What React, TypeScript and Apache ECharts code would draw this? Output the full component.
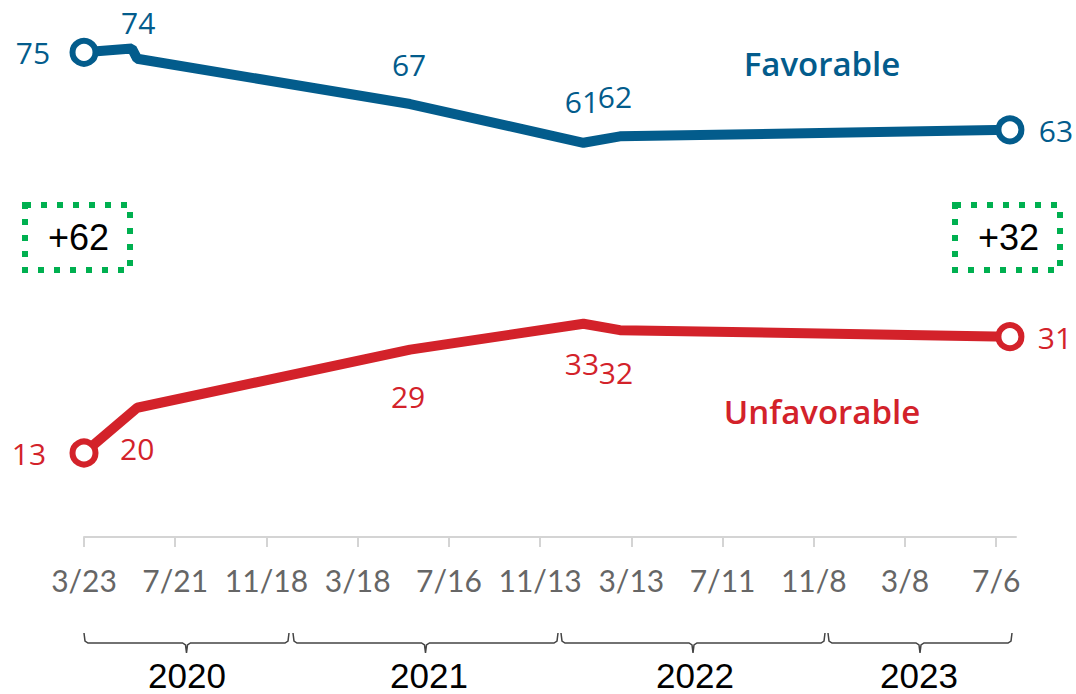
import React, { useEffect, useRef } from "react";
import * as echarts from "echarts";

// ---- data ----
const BASE_DATE = "2020-03-23";
const favorableDates = ["2020-03-23", "2020-05-25", "2020-06-01", "2021-05-26", "2022-01-09", "2022-02-26", "2023-07-24"];
const favorable = [75, 75.6, 74, 67, 61, 62, 63];
const favorableLabels = ["75", "", "74", "67", "61", "62", "63"];
const unfavorableDates = ["2020-03-23", "2020-06-01", "2021-05-26", "2022-01-09", "2022-02-26", "2023-07-24"];
const unfavorable = [13, 20, 29, 33, 32, 31];
const unfavorableLabels = ["13", "20", "29", "33", "32", "31"];
const tickLabels = ["3/23", "7/21", "11/18", "3/18", "7/16", "11/13", "3/13", "7/11", "11/8", "3/8", "7/6"];
const years = ["2020", "2021", "2022", "2023"];
const TICK_STEP = 120; // days between tick labels

// ---- styles / positions ----
const BLUE = "#035C8C";
const RED = "#D3222A";
const GREEN = "#00B050";
const favOffsets: (number[] | null)[] = [[-51, 0], null, [1, -36], [-1, -40], [-1.5, -41], [-5, -40], [46, 1]];
const unfavOffsets: number[][] = [[-55, 1], [0, 41], [-2, 47], [-1.5, 40], [-4, 42], [45, 1]];
const yearBrackets = [
  [84, 289],
  [293, 558],
  [561, 825],
  [828, 1012],
];
const yearLabelX = [187, 429, 695, 919];

const DAY = 86400000;
const dayOffset = (d: string) => Math.round((Date.parse(d + "T00:00:00Z") - Date.parse(BASE_DATE + "T00:00:00Z")) / DAY);

function buildSeriesData(dates: string[], values: number[], labels: string[], offsets: (number[] | null)[], color: string) {
  const last = values.length - 1;
  return values.map((v, i) => {
    const isEnd = i === 0 || i === last;
    const off = offsets[i];
    return {
      value: [dayOffset(dates[i]), v],
      symbol: "circle",
      symbolSize: isEnd ? 23 : 1,
      itemStyle: isEnd ? { color: "#ffffff", borderColor: color, borderWidth: 6 } : { color: "rgba(0,0,0,0)", borderWidth: 0 },
      label: {
        show: !!off && labels[i] !== "",
        formatter: labels[i],
        position: "inside",
        offset: off || [0, 0],
        color,
        fontFamily: "Open Sans",
        fontSize: 30,
        fontWeight: 500,
      },
    };
  });
}

function bracketPoints(x0: number, x1: number) {
  const yTop = 633;
  const yLine = 643;
  const xc = (x0 + x1) / 2;
  return [
    [x0, yTop],
    [x0 + 1, yLine - 2],
    [x0 + 4, yLine],
    [xc - 4, yLine],
    [xc - 1, yLine + 2],
    [xc, yLine + 10],
    [xc + 1, yLine + 2],
    [xc + 4, yLine],
    [x1 - 4, yLine],
    [x1 - 1, yLine - 2],
    [x1, yTop],
  ];
}

export default function App() {
  const ref = useRef<HTMLDivElement>(null);
  useEffect(() => {
    if (!ref.current) return;
    const chart = echarts.init(ref.current, undefined, { renderer: "svg" });
    const tickValues = tickLabels.map((_, i) => i * TICK_STEP);
    const gap0 = favorable[0] - unfavorable[0];
    const gap1 = favorable[favorable.length - 1] - unfavorable[unfavorable.length - 1];

    const graphics: any[] = [];
    yearBrackets.forEach(([x0, x1], i) => {
      graphics.push({
        type: "polyline",
        shape: { points: bracketPoints(x0, x1) },
        style: { stroke: "#444", lineWidth: 1.5, fill: "none" },
        silent: true,
      });
      graphics.push({
        type: "text",
        x: yearLabelX[i],
        y: 675,
        style: {
          text: years[i],
          fill: "#000",
          fontFamily: "Liberation Sans",
          fontSize: 35,
          align: "center",
          verticalAlign: "middle",
        },
      });
    });
    // gap boxes
    graphics.push({
      type: "rect",
      shape: { x: 25, y: 205, width: 105, height: 65 },
      style: { fill: "none", stroke: GREEN, lineWidth: 6, lineDash: [6, 10] },
    });
    graphics.push({
      type: "text",
      x: 78.5,
      y: 237,
      style: { text: "+" + gap0, fill: "#000", fontFamily: "Liberation Sans", fontSize: 36, align: "center", verticalAlign: "middle" },
    });
    graphics.push({
      type: "rect",
      shape: { x: 955, y: 205, width: 105, height: 65 },
      style: { fill: "none", stroke: GREEN, lineWidth: 6, lineDash: [6, 10] },
    });
    graphics.push({
      type: "text",
      x: 1008.5,
      y: 237,
      style: { text: "+" + gap1, fill: "#000", fontFamily: "Liberation Sans", fontSize: 36, align: "center", verticalAlign: "middle" },
    });
    // series names
    graphics.push({
      type: "text",
      x: 822,
      y: 63,
      style: { text: "Favorable", fill: BLUE, fontFamily: "Open Sans", fontWeight: 600, fontSize: 33, align: "center", verticalAlign: "middle" },
    });
    graphics.push({
      type: "text",
      x: 822,
      y: 411,
      style: { text: "Unfavorable", fill: RED, fontFamily: "Open Sans", fontWeight: 600, fontSize: 33, align: "center", verticalAlign: "middle" },
    });

    chart.setOption({
      animation: false,
      grid: { left: 84, right: 60, top: 20, bottom: 157, containLabel: false, outerBoundsMode: "none" },
      xAxis: {
        type: "value",
        min: 0,
        max: 1226,
        interval: TICK_STEP,
        splitLine: { show: false },
        axisLine: { show: true, lineStyle: { color: "#d4d4d4", width: 2 } },
        axisTick: { show: true, length: 10, lineStyle: { color: "#d4d4d4", width: 2 }, customValues: tickValues },
        axisLabel: {
          customValues: tickValues,
          formatter: (v: number) => tickLabels[Math.round(v / TICK_STEP)] ?? "",
          color: "#666",
          fontFamily: "Lato",
          fontSize: 30,
          margin: 28,
        },
      },
      yAxis: { type: "value", min: 0, max: 80, show: false, splitLine: { show: false } },
      series: [
        {
          name: "Favorable",
          type: "line",
          clip: false,
          lineStyle: { color: BLUE, width: 10 },
          itemStyle: { color: BLUE },
          data: buildSeriesData(favorableDates, favorable, favorableLabels, favOffsets, BLUE),
          z: 3,
        },
        {
          name: "Unfavorable",
          type: "line",
          clip: false,
          lineStyle: { color: RED, width: 10 },
          itemStyle: { color: RED },
          data: buildSeriesData(unfavorableDates, unfavorable, unfavorableLabels, unfavOffsets, RED),
          z: 3,
        },
      ],
      graphic: graphics,
    });
    return () => chart.dispose();
  }, []);
  return <div ref={ref} style={{ position: "fixed", left: 0, top: 0, width: 1076, height: 694, background: "#fff" }} />;
}
